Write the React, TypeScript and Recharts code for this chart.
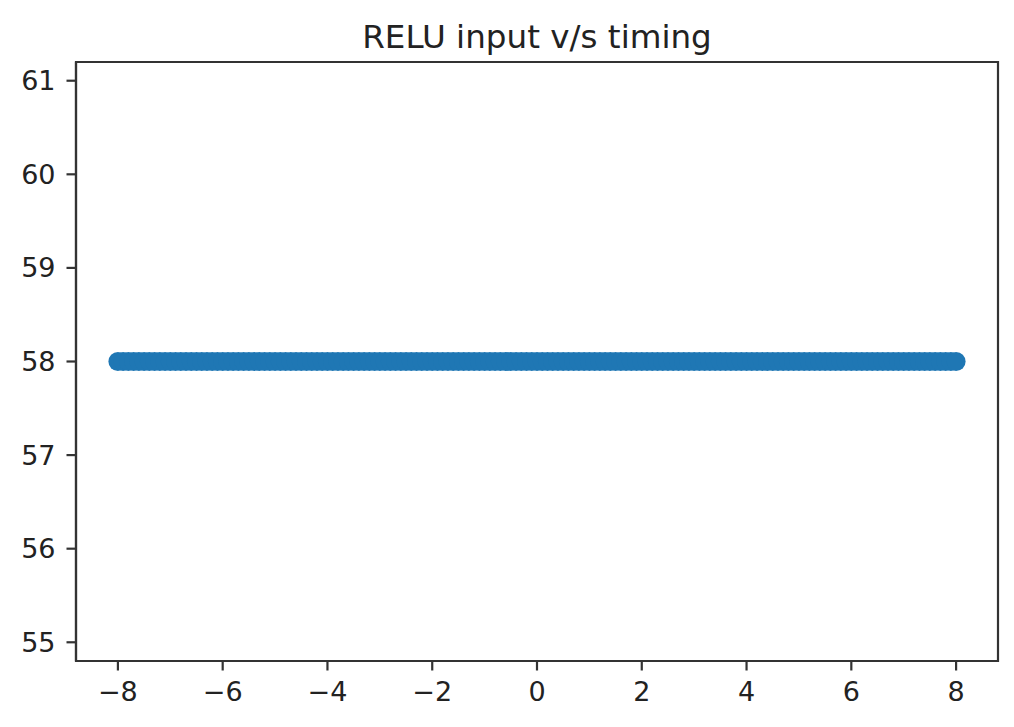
import { ScatterChart, Scatter, XAxis, YAxis, ReferenceArea } from 'recharts';

const title = 'RELU input v/s timing';

// relu inputs swept from -8 to 8
const inputs = [
  -8, -7.9, -7.8, -7.7, -7.6, -7.5, -7.4, -7.3, -7.2, -7.1,
  -7, -6.9, -6.8, -6.7, -6.6, -6.5, -6.4, -6.3, -6.2, -6.1,
  -6, -5.9, -5.8, -5.7, -5.6, -5.5, -5.4, -5.3, -5.2, -5.1,
  -5, -4.9, -4.8, -4.7, -4.6, -4.5, -4.4, -4.3, -4.2, -4.1,
  -4, -3.9, -3.8, -3.7, -3.6, -3.5, -3.4, -3.3, -3.2, -3.1,
  -3, -2.9, -2.8, -2.7, -2.6, -2.5, -2.4, -2.3, -2.2, -2.1,
  -2, -1.9, -1.8, -1.7, -1.6, -1.5, -1.4, -1.3, -1.2, -1.1,
  -1, -0.9, -0.8, -0.7, -0.6, -0.5, -0.4, -0.3, -0.2, -0.1,
  0, 0.1, 0.2, 0.3, 0.4, 0.5, 0.6, 0.7, 0.8, 0.9,
  1, 1.1, 1.2, 1.3, 1.4, 1.5, 1.6, 1.7, 1.8, 1.9,
  2, 2.1, 2.2, 2.3, 2.4, 2.5, 2.6, 2.7, 2.8, 2.9,
  3, 3.1, 3.2, 3.3, 3.4, 3.5, 3.6, 3.7, 3.8, 3.9,
  4, 4.1, 4.2, 4.3, 4.4, 4.5, 4.6, 4.7, 4.8, 4.9,
  5, 5.1, 5.2, 5.3, 5.4, 5.5, 5.6, 5.7, 5.8, 5.9,
  6, 6.1, 6.2, 6.3, 6.4, 6.5, 6.6, 6.7, 6.8, 6.9,
  7, 7.1, 7.2, 7.3, 7.4, 7.5, 7.6, 7.7, 7.8, 7.9,
  8,
];

// measured timing for each input
const timing = [
  58, 58, 58, 58, 58, 58, 58, 58, 58, 58,
  58, 58, 58, 58, 58, 58, 58, 58, 58, 58,
  58, 58, 58, 58, 58, 58, 58, 58, 58, 58,
  58, 58, 58, 58, 58, 58, 58, 58, 58, 58,
  58, 58, 58, 58, 58, 58, 58, 58, 58, 58,
  58, 58, 58, 58, 58, 58, 58, 58, 58, 58,
  58, 58, 58, 58, 58, 58, 58, 58, 58, 58,
  58, 58, 58, 58, 58, 58, 58, 58, 58, 58,
  58, 58, 58, 58, 58, 58, 58, 58, 58, 58,
  58, 58, 58, 58, 58, 58, 58, 58, 58, 58,
  58, 58, 58, 58, 58, 58, 58, 58, 58, 58,
  58, 58, 58, 58, 58, 58, 58, 58, 58, 58,
  58, 58, 58, 58, 58, 58, 58, 58, 58, 58,
  58, 58, 58, 58, 58, 58, 58, 58, 58, 58,
  58, 58, 58, 58, 58, 58, 58, 58, 58, 58,
  58, 58, 58, 58, 58, 58, 58, 58, 58, 58,
  58,
];

const xTicks = [-8, -6, -4, -2, 0, 2, 4, 6, 8];
const yTicks = [55, 56, 57, 58, 59, 60, 61];
const xDomain = [-8.8, 8.8];
const yDomain = [54.8, 61.2];

const data = inputs.map((x, i) => ({ x, y: timing[i] }));

const font = '"DejaVu Sans", sans-serif';
const lineColor = '#333';
const tickStyle = { fill: '#222', fontSize: 27, fontFamily: font };
const minus = (v: number) => String(v).replace('-', '\u2212');

const Dot = (props: any) => (
  <circle cx={props.cx} cy={props.cy} r={9.5} fill="#1f77b4" />
);

export default function App() {
  return (
    <div style={{ position: 'absolute', left: 0, top: 0, width: 1014, height: 727, background: '#fff' }}>
      <svg width={1014} height={60} style={{ position: 'absolute', left: 0, top: 0 }}>
        <text x={537} y={48} textAnchor="middle" fontSize={32.6} fontFamily={font} fill="#222">
          {title}
        </text>
      </svg>
      <ScatterChart width={1014} height={727} margin={{ top: 62, right: 16, bottom: 0, left: 0 }}>
        <XAxis
          dataKey="x"
          type="number"
          domain={xDomain}
          ticks={xTicks}
          tickFormatter={minus}
          height={66}
          tickSize={9.5}
          tickMargin={11}
          tick={tickStyle}
          axisLine={{ stroke: lineColor, strokeWidth: 2.2 }}
          tickLine={{ stroke: lineColor, strokeWidth: 2.2 }}
        />
        <YAxis
          dataKey="y"
          type="number"
          domain={yDomain}
          ticks={yTicks}
          width={76}
          tickSize={9.5}
          tickMargin={11}
          tick={tickStyle}
          axisLine={{ stroke: lineColor, strokeWidth: 2.2 }}
          tickLine={{ stroke: lineColor, strokeWidth: 2.2 }}
        />
        {/* full axes frame, like matplotlib's spines */}
        <ReferenceArea
          x1={xDomain[0]}
          x2={xDomain[1]}
          y1={yDomain[0]}
          y2={yDomain[1]}
          fill="none"
          stroke={lineColor}
          strokeWidth={2.2}
          ifOverflow="visible"
        />
        <Scatter data={data} shape={Dot} isAnimationActive={false} />
      </ScatterChart>
    </div>
  );
}
